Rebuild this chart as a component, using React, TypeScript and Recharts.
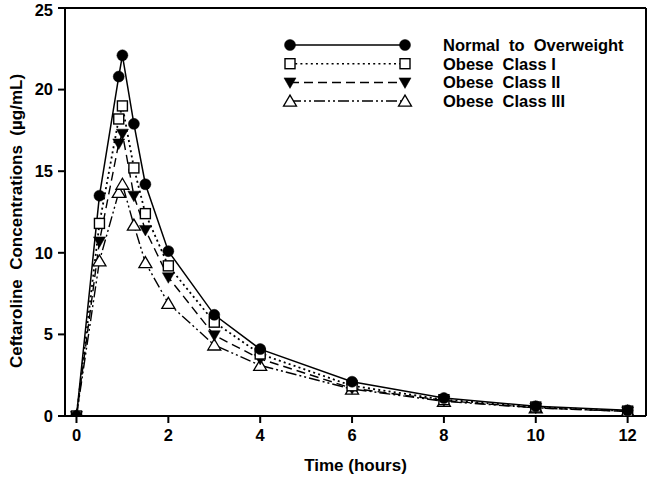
import React from 'react';
import { LineChart, Line, XAxis, YAxis, ReferenceLine, Legend, Label } from 'recharts';

const times = [0, 0.5, 0.92, 1, 1.25, 1.5, 2, 3, 4, 6, 8, 10, 12];
const normalWeight = [0, 13.5, 20.8, 22.1, 17.9, 14.2, 10.1, 6.2, 4.1, 2.1, 1.1, 0.6, 0.35];
const obeseI = [0, 11.8, 18.2, 19.0, 15.2, 12.4, 9.2, 5.75, 3.8, 1.85, 1.0, 0.55, 0.3];
const obeseII = [0, 10.7, 16.7, 17.3, 13.5, 11.4, 8.5, 4.95, 3.5, 1.7, 0.95, 0.5, 0.28];
const obeseIII = [0, 9.5, 13.7, 14.2, 11.7, 9.4, 6.9, 4.35, 3.1, 1.65, 0.9, 0.5, 0.28];

const xTicks = [0, 2, 4, 6, 8, 10, 12];
const yTicks = [0, 5, 10, 15, 20, 25];

const seriesNames = ['Normal  to  Overweight', 'Obese  Class I', 'Obese  Class II', 'Obese  Class III'];

const data = times.map((t, i) => ({
  t,
  normal: normalWeight[i],
  ob1: obeseI[i],
  ob2: obeseII[i],
  ob3: obeseIII[i],
}));

const FONT = '"Liberation Sans", Arial, Helvetica, sans-serif';

const circleShape = (cx: number, cy: number, k: string) => (
  <circle key={k} cx={cx} cy={cy} r={5.5} fill="#000" stroke="#000" strokeWidth={0.5} />
);
const squareShape = (cx: number, cy: number, k: string) => (
  <rect key={k} x={cx - 5} y={cy - 5} width={10} height={10} fill="#fff" stroke="#000" strokeWidth={1.4} />
);
const downTriShape = (cx: number, cy: number, k: string) => (
  <polygon key={k} points={`${cx - 6},${cy - 4.5} ${cx + 6},${cy - 4.5} ${cx},${cy + 6}`} fill="#000" stroke="#000" strokeWidth={0.5} />
);
const upTriShape = (cx: number, cy: number, k: string) => (
  <polygon key={k} points={`${cx - 6.5},${cy + 5} ${cx + 6.5},${cy + 5} ${cx},${cy - 6}`} fill="#fff" stroke="#000" strokeWidth={1.3} />
);

const mkDot = (shape: (cx: number, cy: number, k: string) => React.ReactElement, name: string) =>
  (p: any) => {
    if (p.cx == null || p.cy == null) return <g key={`${name}-${p.index}`} />;
    return shape(p.cx, p.cy, `${name}-${p.index}`);
  };

const legendItems = [
  { name: seriesNames[0], dash: undefined as string | undefined, shape: circleShape },
  { name: seriesNames[1], dash: '2 3.2', shape: squareShape },
  { name: seriesNames[2], dash: '9 5', shape: downTriShape },
  { name: seriesNames[3], dash: '11 3 2 3 2 3', shape: upTriShape },
];

const LegendContent = () => (
  <svg width={360} height={80} style={{ display: 'block', overflow: 'visible' }}>
    {legendItems.map((it, i) => {
      const y = 9 + i * 18.7;
      return (
        <g key={i}>
          <line x1={10} x2={125} y1={y} y2={y} stroke="#000" strokeWidth={1.5} strokeDasharray={it.dash} />
          {it.shape(10, y, `ls-${i}`)}
          {it.shape(125, y, `le-${i}`)}
          <text x={163} y={y} dominantBaseline="central" fontFamily={FONT} fontWeight="bold" fontSize={16.5} fill="#000" style={{ whiteSpace: 'pre' }}>
            {it.name}
          </text>
        </g>
      );
    })}
  </svg>
);

const YLabel = () => (
  <text
    x={16}
    y={221}
    transform="rotate(-90 16 221)"
    textAnchor="middle"
    dominantBaseline="central"
    fontFamily={FONT}
    fontWeight="bold"
    fontSize={17}
    fill="#000"
    style={{ whiteSpace: 'pre' }}
  >
    {'Ceftaroline  Concentrations  (\u00b5g/mL)'}
  </text>
);

export default function App() {
  const tickStyle = { fill: '#000', fontSize: 16.5, fontWeight: 'bold', fontFamily: FONT };
  return (
    <div style={{ position: 'absolute', left: 0, top: 0, width: 650, height: 478, background: '#fff' }}>
      <LineChart width={650} height={478} data={data} margin={{ top: 8, right: 4, left: 0, bottom: 0 }}>
        <XAxis
          type="number"
          dataKey="t"
          domain={[-0.25, 12.4]}
          ticks={xTicks}
          allowDataOverflow
          height={62}
          axisLine={{ stroke: '#000', strokeWidth: 2 }}
          tickLine={{ stroke: '#000', strokeWidth: 2 }}
          tickSize={7}
          tickMargin={6}
          tick={tickStyle}
        >
          <Label
            value="Time  (hours)"
            position="insideBottom"
            offset={7}
            style={{ fill: '#000', fontSize: 17, fontWeight: 'bold', fontFamily: FONT, whiteSpace: 'pre' }}
          />
        </XAxis>
        <YAxis
          type="number"
          domain={[0, 25]}
          ticks={yTicks}
          allowDataOverflow
          width={65}
          axisLine={{ stroke: '#000', strokeWidth: 2 }}
          tickLine={{ stroke: '#000', strokeWidth: 2 }}
          tickSize={7}
          tickMargin={5}
          tick={tickStyle}
        >
          <Label content={<YLabel />} />
        </YAxis>
        <ReferenceLine y={25} stroke="#000" strokeWidth={2} />
        <ReferenceLine x={12.4} stroke="#000" strokeWidth={2} />
        <Legend
          layout="vertical"
          align="center"
          verticalAlign="middle"
          content={<LegendContent />}
          wrapperStyle={{ position: 'absolute', left: 280, top: 36, width: 360, height: 80 }}
        />
        <Line dataKey="ob3" name={seriesNames[3]} stroke="#000" strokeWidth={1.4} strokeDasharray="11 3 2 3 2 3" dot={mkDot(upTriShape, 'ob3')} activeDot={false} isAnimationActive={false} />
        <Line dataKey="ob2" name={seriesNames[2]} stroke="#000" strokeWidth={1.4} strokeDasharray="9 5" dot={mkDot(downTriShape, 'ob2')} activeDot={false} isAnimationActive={false} />
        <Line dataKey="ob1" name={seriesNames[1]} stroke="#000" strokeWidth={1.8} strokeDasharray="2 3.2" dot={mkDot(squareShape, 'ob1')} activeDot={false} isAnimationActive={false} />
        <Line dataKey="normal" name={seriesNames[0]} stroke="#000" strokeWidth={1.5} dot={mkDot(circleShape, 'normal')} activeDot={false} isAnimationActive={false} />
      </LineChart>
    </div>
  );
}
